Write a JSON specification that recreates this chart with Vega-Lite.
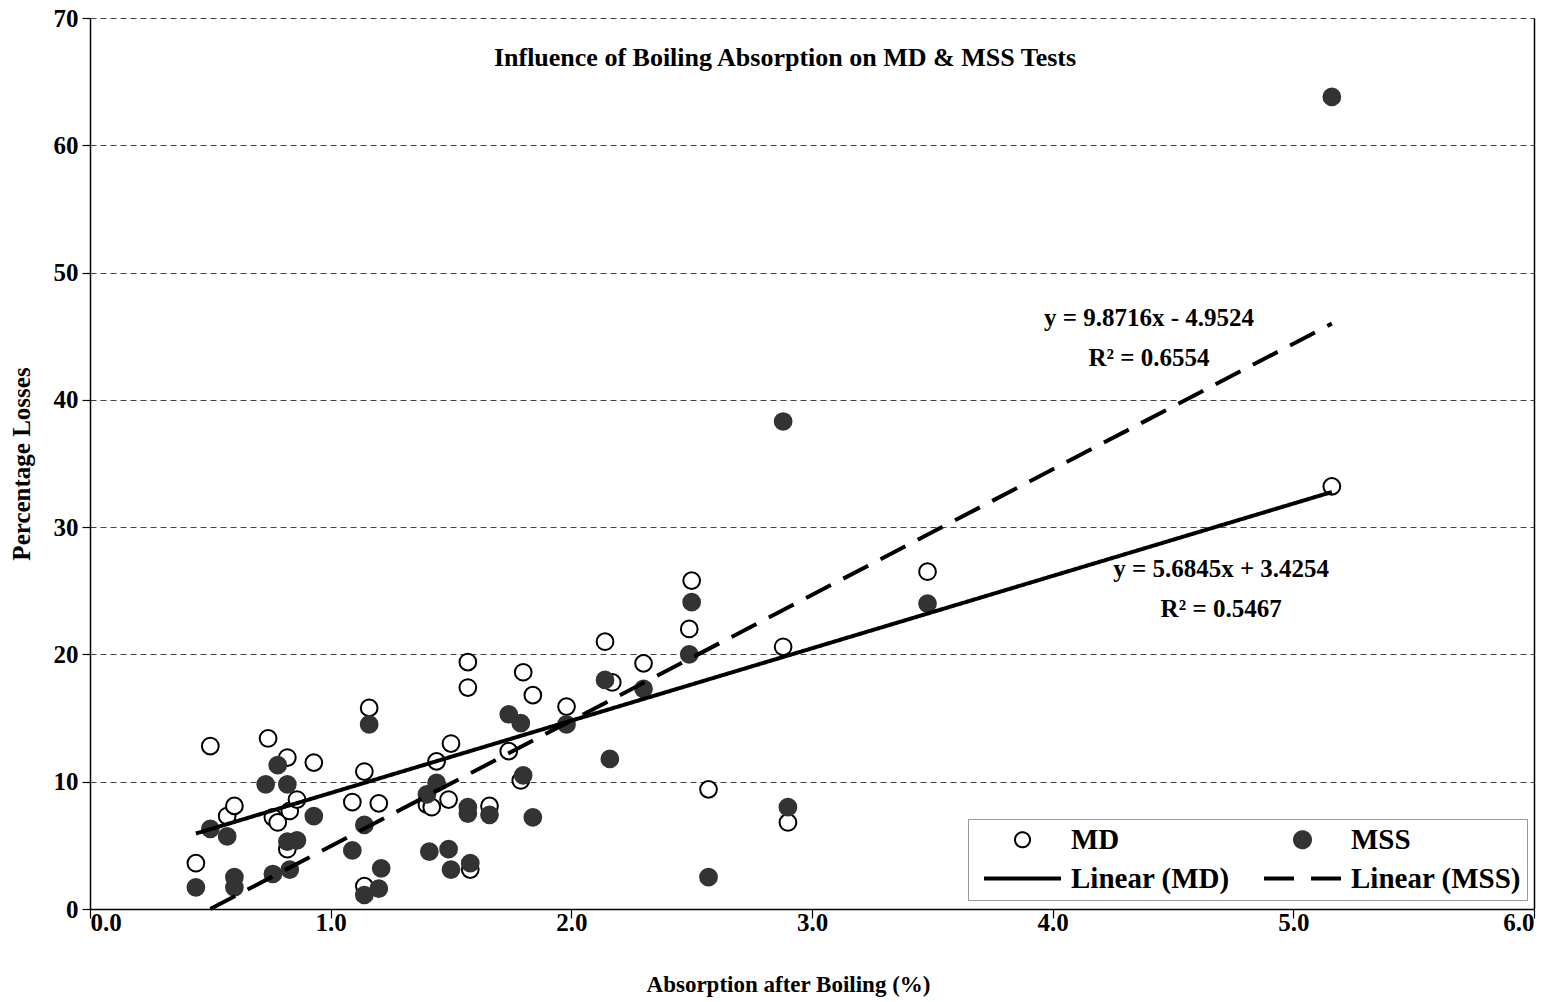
{
  "$schema": "https://vega.github.io/schema/vega-lite/v6.json",
  "width": 1444,
  "height": 891,
  "autosize": {"type": "none"},
  "padding": {"left": 90, "top": 18, "right": 23, "bottom": 93},
  "background": "white",
  "title": {
    "text": "Influence of Boiling Absorption on MD & MSS Tests",
    "font": "Liberation Serif",
    "fontSize": 26,
    "fontWeight": "bold",
    "color": "black",
    "anchor": "middle",
    "offset": -65,
    "dx": -27
  },
  "config": {
    "view": {"stroke": null},
    "font": "Liberation Serif",
    "axis": {
      "labelFont": "Liberation Serif",
      "labelFontWeight": "bold",
      "labelFontSize": 25,
      "labelColor": "black",
      "titleFont": "Liberation Serif",
      "titleFontWeight": "bold",
      "titleFontSize": 23,
      "titleColor": "black",
      "domainColor": "black",
      "domainWidth": 1.5,
      "tickColor": "black",
      "tickWidth": 1.2
    }
  },
  "datasets": {
    "points": [
      {"s": "MD", "x": 0.44, "y": 3.6},
      {"s": "MD", "x": 0.50, "y": 12.8},
      {"s": "MD", "x": 0.57, "y": 7.3},
      {"s": "MD", "x": 0.60, "y": 8.1},
      {"s": "MD", "x": 0.74, "y": 13.4},
      {"s": "MD", "x": 0.76, "y": 7.2},
      {"s": "MD", "x": 0.78, "y": 6.8},
      {"s": "MD", "x": 0.82, "y": 11.9},
      {"s": "MD", "x": 0.83, "y": 7.7},
      {"s": "MD", "x": 0.82, "y": 4.7},
      {"s": "MD", "x": 0.86, "y": 8.6},
      {"s": "MD", "x": 0.93, "y": 11.5},
      {"s": "MD", "x": 1.09, "y": 8.4},
      {"s": "MD", "x": 1.14, "y": 10.8},
      {"s": "MD", "x": 1.16, "y": 15.8},
      {"s": "MD", "x": 1.14, "y": 1.8},
      {"s": "MD", "x": 1.20, "y": 8.3},
      {"s": "MD", "x": 1.40, "y": 8.2},
      {"s": "MD", "x": 1.42, "y": 8.0},
      {"s": "MD", "x": 1.44, "y": 11.6},
      {"s": "MD", "x": 1.50, "y": 13.0},
      {"s": "MD", "x": 1.49, "y": 8.6},
      {"s": "MD", "x": 1.57, "y": 19.4},
      {"s": "MD", "x": 1.57, "y": 17.4},
      {"s": "MD", "x": 1.58, "y": 3.1},
      {"s": "MD", "x": 1.66, "y": 8.1},
      {"s": "MD", "x": 1.74, "y": 12.4},
      {"s": "MD", "x": 1.80, "y": 18.6},
      {"s": "MD", "x": 1.79, "y": 10.1},
      {"s": "MD", "x": 1.84, "y": 16.8},
      {"s": "MD", "x": 1.98, "y": 15.9},
      {"s": "MD", "x": 2.14, "y": 21.0},
      {"s": "MD", "x": 2.17, "y": 17.8},
      {"s": "MD", "x": 2.30, "y": 19.3},
      {"s": "MD", "x": 2.49, "y": 22.0},
      {"s": "MD", "x": 2.50, "y": 25.8},
      {"s": "MD", "x": 2.57, "y": 9.4},
      {"s": "MD", "x": 2.88, "y": 20.6},
      {"s": "MD", "x": 2.90, "y": 6.8},
      {"s": "MD", "x": 3.48, "y": 26.5},
      {"s": "MD", "x": 5.16, "y": 33.2},
      {"s": "MSS", "x": 0.44, "y": 1.7},
      {"s": "MSS", "x": 0.50, "y": 6.3},
      {"s": "MSS", "x": 0.57, "y": 5.7},
      {"s": "MSS", "x": 0.60, "y": 2.5},
      {"s": "MSS", "x": 0.60, "y": 1.7},
      {"s": "MSS", "x": 0.73, "y": 9.8},
      {"s": "MSS", "x": 0.76, "y": 2.75},
      {"s": "MSS", "x": 0.78, "y": 11.3},
      {"s": "MSS", "x": 0.82, "y": 9.8},
      {"s": "MSS", "x": 0.83, "y": 3.1},
      {"s": "MSS", "x": 0.82, "y": 5.3},
      {"s": "MSS", "x": 0.86, "y": 5.4},
      {"s": "MSS", "x": 0.93, "y": 7.3},
      {"s": "MSS", "x": 1.09, "y": 4.6},
      {"s": "MSS", "x": 1.14, "y": 6.6},
      {"s": "MSS", "x": 1.16, "y": 14.5},
      {"s": "MSS", "x": 1.14, "y": 1.1},
      {"s": "MSS", "x": 1.20, "y": 1.6},
      {"s": "MSS", "x": 1.21, "y": 3.2},
      {"s": "MSS", "x": 1.40, "y": 9.0},
      {"s": "MSS", "x": 1.41, "y": 4.5},
      {"s": "MSS", "x": 1.44, "y": 9.9},
      {"s": "MSS", "x": 1.49, "y": 4.7},
      {"s": "MSS", "x": 1.50, "y": 3.1},
      {"s": "MSS", "x": 1.57, "y": 8.0},
      {"s": "MSS", "x": 1.57, "y": 7.5},
      {"s": "MSS", "x": 1.58, "y": 3.6},
      {"s": "MSS", "x": 1.66, "y": 7.4},
      {"s": "MSS", "x": 1.74, "y": 15.3},
      {"s": "MSS", "x": 1.79, "y": 14.6},
      {"s": "MSS", "x": 1.80, "y": 10.5},
      {"s": "MSS", "x": 1.84, "y": 7.2},
      {"s": "MSS", "x": 1.98, "y": 14.5},
      {"s": "MSS", "x": 2.14, "y": 18.0},
      {"s": "MSS", "x": 2.16, "y": 11.8},
      {"s": "MSS", "x": 2.30, "y": 17.3},
      {"s": "MSS", "x": 2.49, "y": 20.0},
      {"s": "MSS", "x": 2.50, "y": 24.1},
      {"s": "MSS", "x": 2.57, "y": 2.5},
      {"s": "MSS", "x": 2.88, "y": 38.3},
      {"s": "MSS", "x": 2.90, "y": 8.0},
      {"s": "MSS", "x": 3.48, "y": 24.0},
      {"s": "MSS", "x": 5.16, "y": 63.8}
    ],
    "lines": [
      {"s": "Linear (MD)", "x": 0.44, "y": 5.93},
      {"s": "Linear (MD)", "x": 5.16, "y": 32.76},
      {"s": "Linear (MSS)", "x": 0.50, "y": 0.0},
      {"s": "Linear (MSS)", "x": 5.16, "y": 45.99}
    ],
    "labels": [
      {"t": "y = 9.8716x - 4.9524", "x": 4.40, "y": 46.4},
      {"t": "R² = 0.6554", "x": 4.40, "y": 43.3},
      {"t": "y = 5.6845x + 3.4254", "x": 4.70, "y": 26.7},
      {"t": "R² = 0.5467", "x": 4.70, "y": 23.6}
    ]
  },
  "resolve": {"axis": {"y": "independent"}},
  "layer": [
    {
      "data": {"name": "points"},
      "mark": {"type": "point", "filled": true, "shape": "circle", "size": 280, "strokeWidth": 2, "opacity": 1},
      "encoding": {
        "x": {
          "field": "x", "type": "quantitative",
          "scale": {"domain": [0, 6], "nice": false, "zero": false},
          "axis": {
            "title": "Absorption after Boiling (%)",
            "values": [0, 1, 2, 3, 4, 5, 6],
            "format": ".1f",
            "grid": false,
            "tickSize": 9,
            "labelPadding": -8,
            "titlePadding": 38,
            "titleX": 698
          }
        },
        "y": {
          "field": "y", "type": "quantitative",
          "scale": {"domain": [0, 70], "nice": false, "zero": true},
          "axis": {
            "title": "Percentage Losses",
            "titleFontSize": 25,
            "values": [0, 10, 20, 30, 40, 50, 60, 70],
            "grid": true,
            "gridColor": "#444444",
            "gridDash": [6, 4],
            "gridWidth": 1,
            "tickSize": 8,
            "labelPadding": 4,
            "titlePadding": 19
          }
        },
        "fill": {
          "field": "s", "type": "nominal",
          "scale": {"domain": ["MD", "MSS", "Linear (MD)", "Linear (MSS)"], "range": ["white", "#333333", "black", "black"]},
          "legend": {
            "title": null,
            "orient": "none",
            "legendX": 878,
            "legendY": 801,
            "direction": "horizontal",
            "columns": 2,
            "columnPadding": 24,
            "rowPadding": 9,
            "padding": 6,
            "fillColor": "white",
            "strokeColor": "#999999",
            "labelFont": "Liberation Serif",
            "labelFontWeight": "bold",
            "labelFontSize": 29,
            "labelColor": "black",
            "labelOffset": 68,
            "labelLimit": 0,
            "symbolSize": 1156,
            "symbolOpacity": 1,
            "symbolStrokeWidth": {"expr": "datum && (datum.value === 'MD' || datum.value === 'MSS') ? 2 : 4"},
            "symbolType": {"expr": "datum.value === 'MD' ? 'M2.441,0A0.441,0.441 0 1,1 1.559,0A0.441,0.441 0 1,1 2.441,0Z' : datum.value === 'MSS' ? 'M2.5,0A0.5,0.5 0 1,1 1.5,0A0.5,0.5 0 1,1 2.5,0Z' : 'M-0.265,0L4.265,0'"},
            "symbolStrokeColor": {"expr": "datum.value === 'MSS' ? '#333333' : 'black'"},
            "symbolDash": {"expr": "datum.value === 'Linear (MSS)' ? [30, 17] : [1, 0]"}
          }
        },
        "stroke": {
          "field": "s", "type": "nominal",
          "scale": {"domain": ["MD", "MSS"], "range": ["black", "#333333"]},
          "legend": null
        }
      }
    },
    {
      "data": {"name": "lines"},
      "mark": {"type": "line", "color": "black", "strokeWidth": 4},
      "encoding": {
        "x": {"field": "x", "type": "quantitative"},
        "y": {
          "field": "y", "type": "quantitative",
          "axis": {"orient": "right", "labels": false, "ticks": false, "grid": false, "title": null, "domainColor": "black", "domainWidth": 1.5}
        },
        "strokeDash": {
          "field": "s", "type": "nominal",
          "scale": {"domain": ["Linear (MD)", "Linear (MSS)"], "range": [[1, 0], [28, 14]]},
          "legend": null
        }
      }
    },
    {
      "data": {"name": "labels"},
      "mark": {"type": "text", "font": "Liberation Serif", "fontWeight": "bold", "fontSize": 25, "color": "black", "align": "center", "baseline": "middle"},
      "encoding": {
        "x": {"field": "x", "type": "quantitative"},
        "y": {"field": "y", "type": "quantitative", "axis": null},
        "text": {"field": "t", "type": "nominal"}
      }
    }
  ]
}
